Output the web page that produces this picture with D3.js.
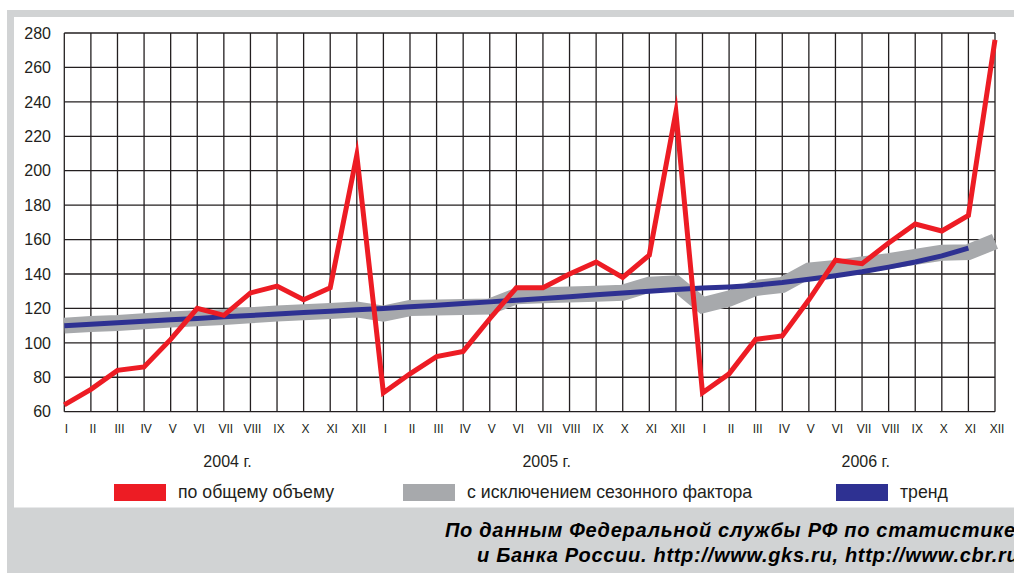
<!DOCTYPE html>
<html>
<head>
<meta charset="utf-8">
<script src="https://cdn.jsdelivr.net/npm/d3@7"></script>
<style>
  html, body { margin: 0; padding: 0; background: #fff; }
  svg { display: block; font-family: "Liberation Sans", Arial, sans-serif; }
</style>
</head>
<body>
<div id="chart"></div>
<script>
// ---- data ----
var months = ["I", "II", "III", "IV", "V", "VI", "VII", "VIII", "IX", "X", "XI", "XII"];
var years = ["2004 г.", "2005 г.", "2006 г."];
var yTicks = [60, 80, 100, 120, 140, 160, 180, 200, 220, 240, 260, 280];

// по общему объему
var totalVolume = [
    64, 73, 84, 86, 102, 120, 116, 129, 133, 125, 132, 209,
    71, 82, 92, 95, 114, 132, 132, 140, 147, 138, 151, 234,
    71, 82, 102, 104, 125, 148, 146, 158, 169, 165, 174, 276
];
// с исключением сезонного фактора
var seasonAdj = [
    110, 111, 111.5, 112.5, 113.5, 114.3, 115, 116, 117, 117.8, 118.5, 119.4,
    117, 120.2, 120.5, 120.8, 121.1, 127.1, 127.6, 128.1, 128.5, 129.1, 133.8, 134.6,
    121.8, 125.7, 131.9, 133.6, 142, 143.5, 145.5, 147.5, 150, 152.3, 152.7, 159
];
// тренд (до XI 2006)
var trend = [
    110, 110.8, 111.7, 112.5, 113.4, 114.2, 115.1, 115.9, 116.7, 117.6, 118.4, 119.2,
    120, 120.9, 121.8, 122.8, 123.8, 124.8, 125.8, 126.8, 127.9, 128.9, 130, 131,
    131.8, 132.5, 133.5, 135, 137, 139, 141.3, 144, 147, 150.5, 155
];

var legendItems = [
    { label: "по общему объему", color: "#ed1c24", x: 114 },
    { label: "с исключением сезонного фактора", color: "#a7a9ac", x: 403 },
    { label: "тренд", color: "#2e3192", x: 836 }
];
var sourceLines = [
    "По данным Федеральной службы РФ по статистике",
    "и Банка России. http://www.gks.ru, http://www.cbr.ru"
];

// ---- layout ----
var width = 1014, height = 573;
var plotLeft = 64.3, plotRight = 995, plotTop = 33, plotBottom = 411.7;

var svg = d3.select("#chart").append("svg")
    .attr("width", width)
    .attr("height", height);

// frame
svg.append("rect").attr("x", 7).attr("y", 10).attr("width", width - 7).attr("height", height - 10)
    .attr("fill", "#d1d3d4");
svg.append("rect").attr("x", 14).attr("y", 17).attr("width", width - 14).attr("height", 490.5)
    .attr("fill", "#fff");

var allMonths = [];
years.forEach(function () {
    months.forEach(function (m) { allMonths.push(m); });
});

var x = d3.scaleLinear().domain([0, allMonths.length - 1]).range([plotLeft, plotRight]);
var y = d3.scaleLinear().domain([60, 280]).range([plotBottom, plotTop]);

// grid
var grid = svg.append("g").attr("stroke", "#231f20").attr("stroke-width", 1.3);
grid.selectAll("line.v")
    .data(allMonths)
    .enter().append("line")
    .attr("class", "v")
    .attr("x1", function (d, i) { return x(i); })
    .attr("x2", function (d, i) { return x(i); })
    .attr("y1", plotTop)
    .attr("y2", plotBottom);
grid.selectAll("line.h")
    .data(yTicks)
    .enter().append("line")
    .attr("class", "h")
    .attr("x1", plotLeft)
    .attr("x2", plotRight)
    .attr("y1", function (d) { return y(d); })
    .attr("y2", function (d) { return y(d); });

// y labels
svg.append("g").selectAll("text")
    .data(yTicks)
    .enter().append("text")
    .attr("x", 51)
    .attr("y", function (d) { return y(d); })
    .attr("dy", "0.36em")
    .attr("text-anchor", "end")
    .attr("font-size", 16)
    .attr("fill", "#231f20")
    .text(function (d) { return d; });

// month labels
svg.append("g").selectAll("text")
    .data(allMonths)
    .enter().append("text")
    .attr("x", function (d, i) { return x(i) + 2; })
    .attr("y", 432.5)
    .attr("text-anchor", "middle")
    .attr("font-size", 12)
    .attr("fill", "#231f20")
    .text(function (d) { return d; });

// year labels
svg.append("g").selectAll("text")
    .data(years)
    .enter().append("text")
    .attr("x", function (d, i) { return (x(i * 12) + x(i * 12 + 11)) / 2 + 17; })
    .attr("y", 467)
    .attr("text-anchor", "middle")
    .attr("font-size", 16)
    .attr("fill", "#231f20")
    .text(function (d) { return d; });

var line = d3.line()
    .x(function (d, i) { return x(i); })
    .y(function (d) { return y(d); });

// seasonally adjusted band
svg.append("path")
    .datum(seasonAdj)
    .attr("d", line)
    .attr("fill", "none")
    .attr("stroke", "#a7a9ac")
    .attr("stroke-width", 16)
    .attr("stroke-linejoin", "miter");

// trend
svg.append("path")
    .datum(trend)
    .attr("d", line)
    .attr("fill", "none")
    .attr("stroke", "#2e3192")
    .attr("stroke-width", 5);

// total volume
svg.append("path")
    .datum(totalVolume)
    .attr("d", line)
    .attr("fill", "none")
    .attr("stroke", "#ed1c24")
    .attr("stroke-width", 5)
    .attr("stroke-linejoin", "miter")
    .attr("stroke-miterlimit", 10);

// legend
var legend = svg.append("g").selectAll("g")
    .data(legendItems)
    .enter().append("g")
    .attr("transform", function (d) { return "translate(" + d.x + ",484)"; });
legend.append("rect")
    .attr("width", 52)
    .attr("height", 17)
    .attr("fill", function (d) { return d.color; });
legend.append("text")
    .attr("x", 64)
    .attr("y", 14)
    .attr("font-size", 17.7)
    .attr("fill", "#231f20")
    .text(function (d) { return d.label; });

// source note
svg.append("g").selectAll("text")
    .data(sourceLines)
    .enter().append("text")
    .attr("x", function (d, i) { return i === 0 ? 445 : 477; })
    .attr("y", function (d, i) { return i === 0 ? 537 : 562; })
    .attr("font-size", 20)
    .attr("letter-spacing", 0.7)
    .attr("font-weight", "bold")
    .attr("font-style", "italic")
    .attr("fill", "#000")
    .text(function (d) { return d; });
</script>
</body>
</html>
